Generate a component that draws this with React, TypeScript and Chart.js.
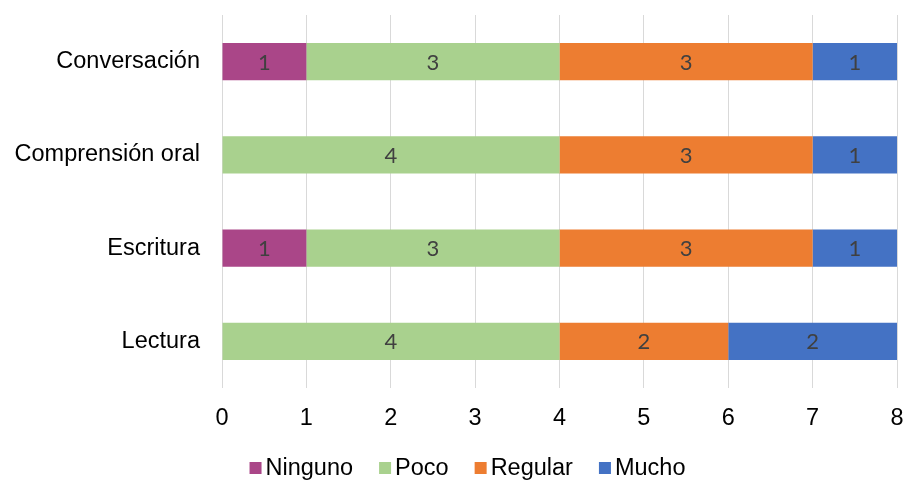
import React, { useEffect, useRef } from "react";
import { Chart, registerables } from "chart.js";

Chart.register(...registerables);

const categories = ["Conversación", "Comprensión oral", "Escritura", "Lectura"];
const seriesNames = ["Ninguno", "Poco", "Regular", "Mucho"];
const ninguno = [1, 0, 1, 0];
const poco = [3, 4, 3, 4];
const regular = [3, 3, 3, 2];
const mucho = [1, 1, 1, 2];
const seriesColors = ["#AA4688", "#A9D18E", "#ED7D31", "#4472C4"];
const xTicks = [0, 1, 2, 3, 4, 5, 6, 7, 8];

const AXIS_FONT = "'Liberation Sans', Arial, sans-serif";

const dataLabelPlugin = {
  id: "dataLabels",
  afterDatasetsDraw(chart: any) {
    const ctx = chart.ctx;
    ctx.save();
    ctx.font = "22px Lato, 'Open Sans', sans-serif";
    ctx.fillStyle = "#404040";
    ctx.textAlign = "center";
    ctx.textBaseline = "middle";
    chart.data.datasets.forEach((ds: any, di: number) => {
      const meta = chart.getDatasetMeta(di);
      meta.data.forEach((el: any, i: number) => {
        const v = ds.data[i];
        if (!v) return;
        const p = el.getCenterPoint();
        ctx.fillText(String(v), p.x, p.y + 1);
      });
    });
    ctx.restore();
  },
};

const legendPlugin = {
  id: "customLegend",
  afterDraw(chart: any) {
    const ctx = chart.ctx;
    ctx.save();
    ctx.font = `23.5px ${AXIS_FONT}`;
    const box = 12;
    const gap = 4;
    const itemGap = 26;
    const widths = seriesNames.map((n) => box + gap + ctx.measureText(n).width);
    const total = widths.reduce((a, b) => a + b, 0) + itemGap * (seriesNames.length - 1);
    let x = (chart.width - total) / 2 + 15;
    const cy = chart.height - 13;
    ctx.textBaseline = "middle";
    ctx.textAlign = "left";
    seriesNames.forEach((n, i) => {
      ctx.fillStyle = seriesColors[i];
      ctx.fillRect(x, cy - box / 2, box, box);
      ctx.fillStyle = "#000000";
      ctx.fillText(n, x + box + gap, cy + 1);
      x += widths[i] + itemGap;
    });
    ctx.restore();
  },
};

export default function App() {
  const ref = useRef<HTMLCanvasElement>(null);
  useEffect(() => {
    if (!ref.current) return;
    const values = [ninguno, poco, regular, mucho];
    const chart = new Chart(ref.current, {
      type: "bar",
      data: {
        labels: categories,
        datasets: seriesNames.map((name, i) => ({
          label: name,
          data: values[i],
          backgroundColor: seriesColors[i],
          borderWidth: 0,
          barPercentage: 0.4,
          categoryPercentage: 1,
        })),
      },
      options: {
        indexAxis: "y",
        responsive: false,
        animation: false,
        layout: { padding: { top: 15, right: 8, bottom: 48, left: 0 } },
        plugins: {
          legend: { display: false },
          tooltip: { enabled: false },
        },
        scales: {
          x: {
            stacked: true,
            min: 0,
            max: 8,
            afterBuildTicks: (scale: any) => {
              scale.ticks = xTicks.map((v) => ({ value: v }));
            },
            afterFit: (scale: any) => {
              scale.height = 45;
              scale.paddingLeft = 0;
              scale.paddingRight = 0;
            },
            grid: { color: "#D9D9D9", lineWidth: 1, drawTicks: false },
            border: { display: false },
            ticks: {
              padding: 16,
              color: "#000000",
              font: { family: AXIS_FONT, size: 23.5 },
            },
          },
          y: {
            stacked: true,
            afterFit: (scale: any) => {
              scale.width = 222;
              scale.paddingTop = 0;
              scale.paddingBottom = 0;
            },
            grid: { display: false, drawTicks: false },
            border: { display: false },
            ticks: {
              padding: 22,
              color: "#000000",
              font: { family: AXIS_FONT, size: 23.5 },
            },
          },
        },
      },
      plugins: [dataLabelPlugin, legendPlugin],
    });
    return () => chart.destroy();
  }, []);
  return (
    <div style={{ position: "fixed", left: 0, top: 0, width: 905, height: 481, background: "#fff" }}>
      <canvas ref={ref} width={905} height={481} style={{ display: "block", width: 905, height: 481 }} />
    </div>
  );
}
